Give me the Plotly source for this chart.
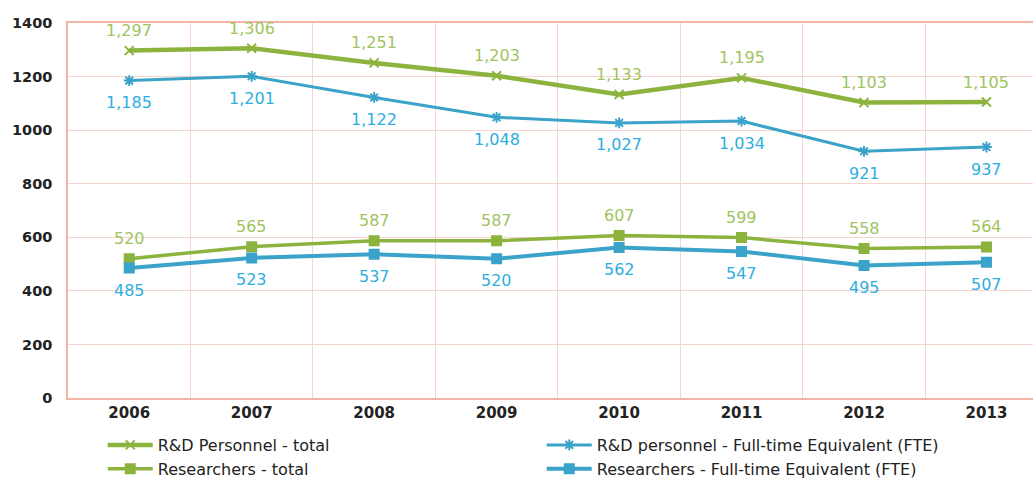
import plotly.graph_objects as go

years = ["2006", "2007", "2008", "2009", "2010", "2011", "2012", "2013"]
rd_total = [1297, 1306, 1251, 1203, 1133, 1195, 1103, 1105]
rd_fte = [1185, 1201, 1122, 1048, 1027, 1034, 921, 937]
res_total = [520, 565, 587, 587, 607, 599, 558, 564]
res_fte = [485, 523, 537, 520, 562, 547, 495, 507]

GREEN = "#8db33f"
GREEN_TXT = "#a0c45e"
BLUE = "#3ba3c9"
BLUE_TXT = "#2eaee0"
FONT = "DejaVu Sans"

fig = go.Figure()

# name, values, line colour, label colour, marker, label offset (px), line width
series = [
    ("R&D Personnel - total", rd_total, GREEN, GREEN_TXT, "x-thin-open", 20, 4.5),
    ("R&D personnel - Full-time Equivalent (FTE)", rd_fte, BLUE, BLUE_TXT, "asterisk-open", -22, 3),
    ("Researchers - total", res_total, GREEN, GREEN_TXT, "square", 20, 3.5),
    ("Researchers - Full-time Equivalent (FTE)", res_fte, BLUE, BLUE_TXT, "square", -22, 4),
]

for name, vals, col, tcol, sym, shift, w in series:
    fig.add_trace(go.Scatter(
        x=years, y=vals, name=name,
        mode="lines+markers",
        line=dict(color=col, width=w),
        marker=dict(symbol=sym, size=9, color=col, line=dict(color=col, width=2)),
    ))
    # value labels; category axis positions are indexed from zero
    for i, v in enumerate(vals):
        fig.add_annotation(
            x=i, y=v, xref="x", yref="y", text=f"{v:,}", showarrow=False, yshift=shift,
            font=dict(family=FONT, size=16, color=tcol),
        )

fig.update_layout(
    width=1033, height=481,
    margin=dict(l=68, r=0, t=23, b=83, autoexpand=False),
    paper_bgcolor="white", plot_bgcolor="white",
    font=dict(family=FONT, color="#1a1a1a"),
    legend=dict(
        orientation="h", x=0.036, xanchor="left", y=-0.08, yanchor="top",
        entrywidth=379, entrywidthmode="pixels", itemwidth=45,
        font=dict(family=FONT, size=16, color="#222222"),
        tracegroupgap=0, traceorder="normal",
    ),
    showlegend=True,
)

fig.update_xaxes(
    type="category", range=[-0.5, 7.38], tickson="boundaries",
    showgrid=True, gridcolor="#f8d4cf", gridwidth=1,
    showline=True, linecolor="#f3b3a5", linewidth=1.5, mirror=True,
    ticks="", ticklen=0,
    tickfont=dict(family=FONT, size=15, color="#222222", weight="bold"),
    zeroline=False,
)
fig.update_yaxes(
    range=[0, 1400], dtick=200, tickformat="d",
    showgrid=True, gridcolor="#f8d4cf", gridwidth=1,
    showline=True, linecolor="#f3b3a5", linewidth=1.5, mirror=True,
    ticks="outside", ticklen=11, tickcolor="white",
    tickfont=dict(family=FONT, size=14.5, color="#222222", weight="bold"),
    zeroline=False,
)

fig.write_html("out.html")
